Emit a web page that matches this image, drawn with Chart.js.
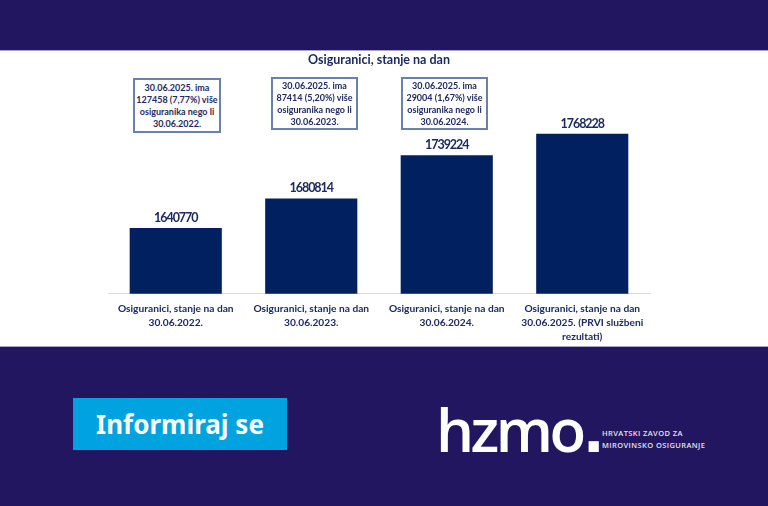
<!DOCTYPE html>
<html>
<head>
<meta charset="utf-8">
<title>Osiguranici, stanje na dan</title>
<script src="https://cdn.jsdelivr.net/npm/chart.js@4"></script>
<style>
html, body { margin: 0; padding: 0; }
body { width: 768px; height: 506px; background: #231660; position: relative; overflow: hidden; font-family: Lato, sans-serif; }
#panel { position: absolute; left: 0; top: 50px; width: 768px; height: 297px; background: #fff; border-top: 1px solid #a9a4c6; border-bottom: 1px solid #a9a4c6; box-sizing: border-box; }
#chart { position: absolute; left: 0; top: 50px; }
.note { position: absolute; box-sizing: border-box; border: 2px solid #6b80ad; background: #fff; color: #1c2a62; font-size: 9px; font-weight: 700; line-height: 12px; text-align: center; display: flex; align-items: center; justify-content: center; white-space: nowrap; }
#btn { position: absolute; left: 73px; top: 398px; width: 214px; height: 52px; background: #00a3e0; color: #fff; font: 700 26px/52px "Noto Sans", sans-serif; text-align: center; }
#logo { position: absolute; left: 436px; top: 391px; color: #fff; font: 600 60px/72px "Open Sans", sans-serif; letter-spacing: -3.5px; white-space: nowrap; }
#logo span { font: 700 72px/72px "Liberation Sans", sans-serif; letter-spacing: 0; margin-left: 1px; }
#sub { position: absolute; left: 602px; top: 428px; color: #e4e2ee; font: 600 7.5px/11.5px "Open Sans", sans-serif; letter-spacing: 0.4px; white-space: nowrap; }
</style>
</head>
<body>
<div id="panel"></div>
<canvas id="chart" width="768" height="302"></canvas>
<div class="note" style="left:133px;top:78px;width:88px;height:55px"></div>
<div class="note" style="left:271px;top:77px;width:87px;height:53px"></div>
<div class="note" style="left:401px;top:77px;width:87px;height:53px"></div>
<div id="btn">Informiraj se</div>
<div id="logo">hzmo<span>.</span></div>
<div id="sub">HRVATSKI ZAVOD ZA<br>MIROVINSKO OSIGURANJE</div>
<script>
const titleText = "Osiguranici, stanje na dan";
const categories = [
    ["Osiguranici, stanje na dan", "30.06.2022."],
    ["Osiguranici, stanje na dan", "30.06.2023."],
    ["Osiguranici, stanje na dan", "30.06.2024."],
    ["Osiguranici, stanje na dan", "30.06.2025. (PRVI službeni", "rezultati)"],
];
const insured = [1640770, 1680814, 1739224, 1768228];
const notes = [
    ["30.06.2025. ima", "127458 (7,77%) više", "osiguranika nego li", "30.06.2022."],
    ["30.06.2025. ima", "87414 (5,20%) više", "osiguranika nego li", "30.06.2023."],
    ["30.06.2025. ima", "29004 (1,67%) više", "osiguranika nego li", "30.06.2024."],
];
const axisMin = 1552000;
const axisMax = 1853000;

const textColor = "#1c2a62";
const barColor = "#002060";

document.querySelectorAll(".note").forEach((el, i) => {
    el.innerHTML = "<div>" + notes[i].join("<br>") + "</div>";
});

// value labels above the bars
const barValues = {
    id: "barValues",
    afterDatasetsDraw(chart) {
        const ctx = chart.ctx;
        ctx.save();
        ctx.font = "700 12.5px Lato";
        ctx.letterSpacing = "-1px";
        ctx.fillStyle = textColor;
        ctx.textAlign = "center";
        ctx.textBaseline = "bottom";
        chart.getDatasetMeta(0).data.forEach((bar, i) => {
            ctx.fillText(String(insured[i]), bar.x, bar.y - 4);
        });
        ctx.restore();
    },
};

new Chart(document.getElementById("chart"), {
    type: "bar",
    data: {
        labels: categories,
        datasets: [{
            data: insured,
            backgroundColor: barColor,
            categoryPercentage: 1,
            barPercentage: 0.68,
        }],
    },
    options: {
        responsive: false,
        animation: false,
        devicePixelRatio: 1,
        layout: { padding: { left: 108, right: 118, top: 0, bottom: 0 } },
        plugins: {
            legend: { display: false },
            tooltip: { enabled: false },
            title: {
                display: true,
                text: titleText,
                color: textColor,
                font: { family: "Lato", size: 12.5, weight: "700" },
                padding: { top: 2, bottom: 4 },
            },
        },
        scales: {
            x: {
                grid: { display: false, drawTicks: false },
                border: { color: "#d9d9d9" },
                ticks: {
                    color: textColor,
                    font: { family: "Lato", size: 10.2, weight: "700", lineHeight: 1.38 },
                    maxRotation: 0,
                    autoSkip: false,
                    padding: 8,
                },
            },
            y: { display: false, min: axisMin, max: axisMax },
        },
    },
    plugins: [barValues],
});
</script>
</body>
</html>
